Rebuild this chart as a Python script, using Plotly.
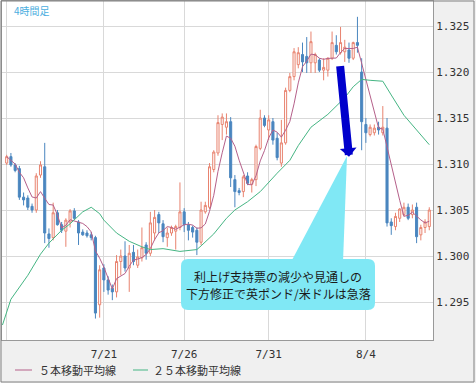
import plotly.graph_objects as go
import pandas as pd

# ---- data (GBP/USD, 4-hour candles) ----
tick_pos = [0, 23, 42, 62, 85]
tick_text = ["", "7/21", "7/26", "7/31", "8/4"]
price_ticks = [1.295, 1.300, 1.305, 1.310, 1.315, 1.320, 1.325]

opens = [1.3101, 1.3108, 1.3099, 1.3095, 1.3064, 1.3063, 1.3054, 1.3050, 1.3088, 1.3097,
         1.3024, 1.3020, 1.3047, 1.3034, 1.3027, 1.3037, 1.3049, 1.3037, 1.3026, 1.3025,
         1.3023, 1.3020, 1.2947, 1.2987, 1.2974, 1.2965, 1.2961, 1.2994, 1.3000, 1.2987,
         1.3004, 1.2990, 1.2998, 1.3012, 1.3003, 1.3025, 1.3045, 1.3035, 1.3020, 1.3025,
         1.3027, 1.3031, 1.3048, 1.3034, 1.3031, 1.3028, 1.3015, 1.3048, 1.3053, 1.3094,
         1.3112, 1.3143, 1.3140, 1.3146, 1.3083, 1.3071, 1.3070, 1.3087, 1.3078, 1.3083,
         1.3117, 1.3150, 1.3137, 1.3146, 1.3128, 1.3101, 1.3123, 1.3180, 1.3195, 1.3208,
         1.3219, 1.3217, 1.3210, 1.3210, 1.3213, 1.3202, 1.3202, 1.3215, 1.3229, 1.3221,
         1.3222, 1.3224, 1.3215, 1.3232, 1.3200, 1.3143, 1.3132, 1.3134, 1.3140, 1.3134,
         1.3139, 1.3037, 1.3032, 1.3041, 1.3045, 1.3053, 1.3045, 1.3053, 1.3023, 1.3031,
         1.3032]
highs = [1.3110, 1.3112, 1.3101, 1.3098, 1.3069, 1.3066, 1.3057, 1.3090, 1.3103, 1.3123,
         1.3030, 1.3058, 1.3050, 1.3037, 1.3041, 1.3051, 1.3052, 1.3039, 1.3029, 1.3028,
         1.3026, 1.3022, 1.2990, 1.2991, 1.2978, 1.2969, 1.3001, 1.3007, 1.3016, 1.3012,
         1.3012, 1.3007, 1.3031, 1.3015, 1.3048, 1.3050, 1.3048, 1.3039, 1.3031, 1.3033,
         1.3034, 1.3080, 1.3052, 1.3037, 1.3033, 1.3031, 1.3059, 1.3059, 1.3101, 1.3115,
         1.3153, 1.3155, 1.3155, 1.3151, 1.3088, 1.3074, 1.3088, 1.3091, 1.3085, 1.3121,
         1.3159, 1.3153, 1.3153, 1.3150, 1.3134, 1.3148, 1.3183, 1.3199, 1.3226, 1.3227,
         1.3232, 1.3238, 1.3244, 1.3221, 1.3215, 1.3215, 1.3216, 1.3244, 1.3240, 1.3249,
         1.3235, 1.3232, 1.3233, 1.3260, 1.3215, 1.3150, 1.3143, 1.3143, 1.3146, 1.3163,
         1.3150, 1.3041, 1.3047, 1.3052, 1.3058, 1.3057, 1.3056, 1.3058, 1.3034, 1.3040,
         1.3053]
lows = [1.3099, 1.3097, 1.3091, 1.3061, 1.3055, 1.3050, 1.3047, 1.3047, 1.3085, 1.3014,
        1.3009, 1.3017, 1.3033, 1.3025, 1.3010, 1.3031, 1.3039, 1.3012, 1.3022, 1.3020,
        1.3017, 1.2932, 1.2933, 1.2961, 1.2958, 1.2952, 1.2955, 1.2979, 1.2983, 1.2961,
        1.2990, 1.2987, 1.2994, 1.2996, 1.3000, 1.3017, 1.3025, 1.3015, 1.3010, 1.3022,
        1.3007, 1.3028, 1.3026, 1.3017, 1.3020, 1.3001, 1.3012, 1.3046, 1.3051, 1.3091,
        1.3109, 1.3126, 1.3132, 1.3075, 1.3053, 1.3066, 1.3064, 1.3077, 1.3069, 1.3076,
        1.3115, 1.3140, 1.3126, 1.3121, 1.3104, 1.3097, 1.3121, 1.3178, 1.3191, 1.3204,
        1.3200, 1.3199, 1.3199, 1.3199, 1.3200, 1.3191, 1.3195, 1.3213, 1.3219, 1.3219,
        1.3211, 1.3210, 1.3213, 1.3221, 1.3115, 1.3123, 1.3130, 1.3131, 1.3132, 1.3131,
        1.3032, 1.3023, 1.3028, 1.3037, 1.3043, 1.3039, 1.3041, 1.3014, 1.3017, 1.3025,
        1.3028]
closes = [1.3108, 1.3099, 1.3093, 1.3064, 1.3061, 1.3053, 1.3050, 1.3087, 1.3099, 1.3025,
          1.3019, 1.3047, 1.3034, 1.3028, 1.3039, 1.3049, 1.3041, 1.3025, 1.3023, 1.3022,
          1.3020, 1.2938, 1.2985, 1.2974, 1.2963, 1.2961, 1.2994, 1.3000, 1.2987, 1.3003,
          1.2994, 1.2999, 1.3009, 1.3003, 1.3036, 1.3042, 1.3036, 1.3021, 1.3025, 1.3031,
          1.3032, 1.3048, 1.3034, 1.3028, 1.3026, 1.3015, 1.3050, 1.3055, 1.3097, 1.3113,
          1.3145, 1.3151, 1.3146, 1.3085, 1.3070, 1.3069, 1.3086, 1.3079, 1.3083, 1.3119,
          1.3150, 1.3142, 1.3148, 1.3126, 1.3107, 1.3123, 1.3180, 1.3195, 1.3222, 1.3221,
          1.3211, 1.3210, 1.3233, 1.3219, 1.3202, 1.3205, 1.3215, 1.3232, 1.3222, 1.3232,
          1.3227, 1.3215, 1.3232, 1.3229, 1.3146, 1.3134, 1.3140, 1.3139, 1.3137, 1.3140,
          1.3036, 1.3033, 1.3043, 1.3051, 1.3053, 1.3041, 1.3050, 1.3021, 1.3031, 1.3037,
          1.3050]

ma25_idx = [-1, 1, 5, 8, 10, 13, 15, 18, 20, 22, 23, 26, 29, 32, 34, 37, 41, 45, 46, 49,
            52, 54, 57, 60, 64, 67, 69, 72, 76, 80, 82, 84, 86, 89, 91, 94, 97, 100]
ma25_val = [1.2925, 1.2953, 1.2979, 1.3002, 1.3014, 1.3028, 1.3035, 1.3048, 1.3053, 1.3046,
            1.3039, 1.3025, 1.3016, 1.3010, 1.3007, 1.3008, 1.3005, 1.3007, 1.3011, 1.3024,
            1.3041, 1.3050, 1.3059, 1.3070, 1.3090, 1.3104, 1.3120, 1.3140, 1.3154, 1.3172,
            1.3184, 1.3192, 1.3191, 1.3190, 1.3175, 1.3153, 1.3137, 1.3121]

ma5_name = "５本移動平均線"
ma25_name = "２５本移動平均線"
frame_label = "4時間足"
note_lines = ["利上げ支持票の減少や見通しの", "下方修正で英ポンド/米ドルは急落"]

# ---- derived ----
xs = list(range(len(opens)))
ma5 = pd.Series(closes).rolling(5, min_periods=1).mean().tolist()

# ---- geometry helpers (pixel -> paper) ----
W, H = 476, 383
ML, MR, MT, MB = 2, 43, 1, 43
PW, PH = W - ML - MR, H - MT - MB


def px(X):
    return (X - ML) / PW


def py(Y):
    return (H - MB - Y) / PH


UP = "#E8836F"
DOWN = "#4A86BF"
MA5_COLOR = "#B5608A"
MA25_COLOR = "#45B583"
GRID = "#D9D9D9"
CALLOUT = "#80E8F5"
TICKFONT = dict(family="DejaVu Sans Mono", size=11, color="#333333")
JPFONT = "Noto Sans CJK JP"

fig = go.Figure()
fig.add_trace(go.Candlestick(
    x=xs, open=opens, high=highs, low=lows, close=closes,
    increasing=dict(line=dict(color=UP, width=1), fillcolor="white"),
    decreasing=dict(line=dict(color=DOWN, width=1), fillcolor=DOWN),
    whiskerwidth=0, showlegend=False, name="GBP/USD", hoverinfo="skip"))
fig.add_trace(go.Scatter(x=xs, y=ma5, mode="lines", name=ma5_name,
                         line=dict(color=MA5_COLOR, width=1), showlegend=False))
fig.add_trace(go.Scatter(x=ma25_idx, y=ma25_val, mode="lines", name=ma25_name,
                         line=dict(color=MA25_COLOR, width=1), showlegend=False))

# callout box (rounded) + wedge
x0, x1, y0, y1 = px(181), px(375), py(310), py(259)
rx, ry = 7 / PW, 7 / PH
box_path = (f"M {x0+rx},{y1} L {x1-rx},{y1} Q {x1},{y1} {x1},{y1-ry} "
            f"L {x1},{y0+ry} Q {x1},{y0} {x1-rx},{y0} L {x0+rx},{y0} "
            f"Q {x0},{y0} {x0},{y0+ry} L {x0},{y1-ry} Q {x0},{y1} {x0+rx},{y1} Z")
wedge_path = (f"M {px(347)},{py(156)} L {px(343)},{py(262)} "
              f"L {px(291)},{py(262)} Z")
shapes = [
    dict(type="path", path=wedge_path, xref="paper", yref="paper",
         fillcolor=CALLOUT, line=dict(width=0), layer="above"),
    dict(type="path", path=box_path, xref="paper", yref="paper",
         fillcolor=CALLOUT, line=dict(width=0), layer="above"),
    dict(type="rect", xref="paper", yref="paper",
         x0=px(1), x1=px(474), y0=py(382), y1=py(1),
         line=dict(color="#808080", width=1), fillcolor="rgba(0,0,0,0)"),
    # legend samples
    dict(type="line", xref="paper", yref="paper", x0=px(15), x1=px(32),
         y0=py(370), y1=py(370), line=dict(color=MA5_COLOR, width=1)),
    dict(type="line", xref="paper", yref="paper", x0=px(133), x1=px(148),
         y0=py(370), y1=py(370), line=dict(color=MA25_COLOR, width=1)),
]

annotations = [
    dict(x=81.0, y=1.3108, xref="x", yref="y", ax=-9, ay=-92, text="",
         showarrow=True, arrowhead=1, arrowsize=0.35, arrowwidth=8,
         arrowcolor="#0000CC"),
    dict(x=px(12), y=py(10), xref="paper", yref="paper", text=frame_label,
         showarrow=False, xanchor="left", yanchor="middle",
         font=dict(family=JPFONT, size=10, color="#4AAEE0")),
    dict(x=px(278), y=py(276), xref="paper", yref="paper", text=note_lines[0],
         showarrow=False, xanchor="center", yanchor="middle",
         font=dict(family=JPFONT, size=12, color="#1A1A1A")),
    dict(x=px(278), y=py(293), xref="paper", yref="paper", text=note_lines[1],
         showarrow=False, xanchor="center", yanchor="middle",
         font=dict(family=JPFONT, size=12, color="#1A1A1A")),
    dict(x=px(37), y=py(370), xref="paper", yref="paper", text=ma5_name,
         showarrow=False, xanchor="left", yanchor="middle",
         font=dict(family=JPFONT, size=11, color="#333333")),
    dict(x=px(151), y=py(370), xref="paper", yref="paper", text=ma25_name,
         showarrow=False, xanchor="left", yanchor="middle",
         font=dict(family=JPFONT, size=11, color="#333333")),
]

fig.update_layout(
    width=W, height=H, autosize=False,
    margin=dict(l=ML, r=MR, t=MT, b=MB, pad=0),
    paper_bgcolor="#F0F0F0", plot_bgcolor="white",
    shapes=shapes, annotations=annotations, hovermode=False,
    showlegend=False,
    xaxis=dict(range=[-1.11, 100.88], tickvals=tick_pos, ticktext=tick_text,
               showgrid=True, gridcolor=GRID, gridwidth=1, zeroline=False,
               showline=True, linecolor="#999999", mirror=True, ticks="",
               ticklabelstandoff=4, automargin=False,
               tickfont=TICKFONT, rangeslider=dict(visible=False)),
    yaxis=dict(range=[1.29087, 1.32772], tickvals=price_ticks, tickformat=".3f",
               side="right", showgrid=True, gridcolor=GRID, gridwidth=1,
               zeroline=False, showline=True, linecolor="#999999", mirror=True,
               ticks="", automargin=False, tickfont=TICKFONT),
)

fig.write_html("out.html", config={"displayModeBar": False},
               post_script="document.body.style.margin='0';document.body.style.overflow='hidden';")
